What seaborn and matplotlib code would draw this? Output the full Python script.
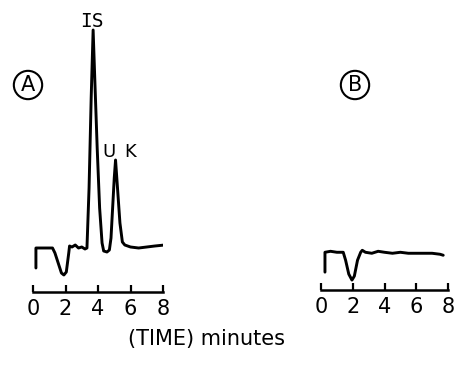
import matplotlib
matplotlib.use('Agg')
import matplotlib.pyplot as plt
import seaborn as sns

# chromatogram A (time in minutes, detector signal)
time_a = [0.18, 0.18, 0.5, 0.9, 1.2, 1.35, 1.55, 1.75, 1.9, 2.05, 2.2, 2.25, 2.4, 2.6, 2.8, 3.0, 3.2,
          3.32, 3.45, 3.58, 3.7, 3.8, 3.95, 4.1, 4.25, 4.35, 4.55, 4.7,
          4.8, 4.9, 5.0, 5.08, 5.2, 5.35, 5.5, 5.65, 6.0, 6.5, 7.0, 7.5, 8.1]
signal_a = [-20, 0, 0, 0, 0, -5, -15, -25, -27, -24, -5, 2, 1, 3, 0, 1, -1,
            0, 60, 150, 218, 170, 100, 40, 5, -3, -4, -2,
            10, 40, 70, 88, 60, 25, 6, 3, 1, 0, 1, 2, 3]

# chromatogram B (blank)
time_b = [0.25, 0.25, 0.6, 1.0, 1.4, 1.55, 1.75, 1.95, 2.1, 2.3, 2.5, 2.6, 2.8, 3.2, 3.6, 4.0,
          4.5, 5.0, 5.5, 6.0, 6.5, 7.0, 7.5, 7.7]
signal_b = [-20, 0, 1, 0, 0, -8, -22, -28, -24, -8, 0, 2, 0, -1, 1, 0,
            -1, 0, -1, -1, -1, -1, -2, -3]

ticks = [0, 2, 4, 6, 8]

sns.set_style('white')
plt.rcParams['font.family'] = ['DejaVu Sans']
plt.rcParams['text.color'] = 'black'

fig = plt.figure(figsize=(4.58, 3.77), dpi=100)
ax_a = fig.add_axes([33 / 458, 85 / 377, 130 / 458, 272 / 377])
ax_b = fig.add_axes([321 / 458, 87 / 377, 127 / 458, 270 / 377])

for ax, t, s, lo in [(ax_a, time_a, signal_a, -44), (ax_b, time_b, signal_b, -38)]:
    sns.lineplot(x=t, y=s, ax=ax, sort=False, estimator=None, color='black', lw=2.1)
    ax.set_xlim(0, 8)
    ax.set_ylim(lo, 272 + lo)
    ax.set_xticks(ticks)
    ax.set_xticklabels([str(v) for v in ticks])
    ax.set_yticks([])
    for side in ['top', 'left', 'right']:
        ax.spines[side].set_visible(False)
    ax.spines['bottom'].set_linewidth(1.8)
    ax.spines['bottom'].set_color('black')
    ax.tick_params(axis='x', bottom=True, direction='in', length=5, width=1.6,
                   pad=5, labelsize=15, colors='black')
    ax.set_xlabel('')
    ax.set_ylabel('')
    ax.patch.set_alpha(0)

ax_a.text(3.63, 221, 'IS', ha='center', va='baseline', fontsize=14, family='DejaVu Sans Mono')
ax_a.text(4.68, 91, 'U', ha='center', va='baseline', fontsize=13)
ax_a.text(5.97, 91, 'K', ha='center', va='baseline', fontsize=13)

circle = dict(boxstyle='circle,pad=0.2', fc='none', ec='black', lw=1.5)
fig.text(28 / 458, 1 - 85 / 377, 'A', ha='center', va='center', fontsize=15, bbox=circle)
fig.text(355 / 458, 1 - 85 / 377, 'B', ha='center', va='center', fontsize=15, bbox=circle)

fig.text(207 / 458, 1 - 339 / 377, '(TIME) minutes', ha='center', va='center', fontsize=15)

fig.savefig('out.png', dpi=100)
